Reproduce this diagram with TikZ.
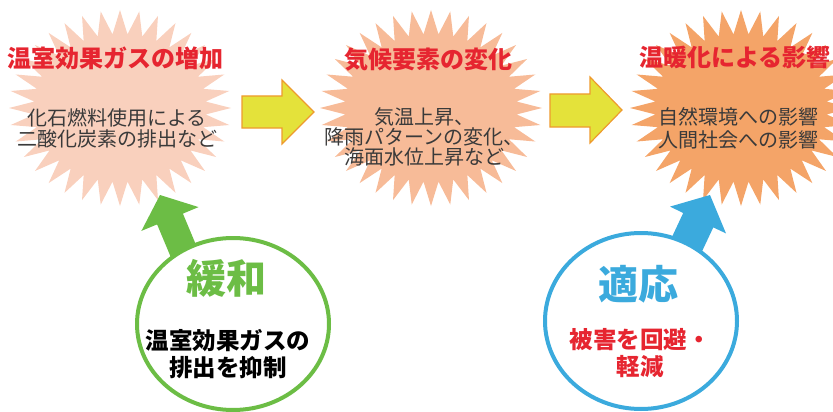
\documentclass[tikz,border=0pt]{standalone}
\usepackage{fontspec}
\setmainfont{Noto Sans CJK JP}
\definecolor{burstA}{HTML}{F9D0BD}
\definecolor{burstB}{HTML}{F7BB98}
\definecolor{burstC}{HTML}{F4A468}
\definecolor{titlered}{HTML}{E62530}
\definecolor{bodygray}{HTML}{3A3A3A}
\definecolor{arrowyellow}{HTML}{E4E23A}
\definecolor{arroworange}{HTML}{EE9A2E}
\definecolor{mitgreen}{HTML}{6CBD45}
\definecolor{adablue}{HTML}{3BAADD}
\tikzset{
  bursttitle/.style={inner sep=0pt, text=titlered, font=\bfseries\fontsize{24}{28}\selectfont},
  burstbody/.style={inner sep=0pt, text=bodygray, align=center},
  blockarrow/.style={fill=arrowyellow, draw=arroworange, line width=1.2pt, line join=miter},
  ringline/.style={line width=4pt, fill=white},
  ringtitle/.style={inner sep=0pt, font=\bfseries\fontsize{40}{44}\selectfont},
  ringbody/.style={inner sep=0pt, align=center, font=\bfseries\fontsize{23.5}{27.5}\selectfont},
}
\newcommand{\myburst}[3]{%
  \fill[#3, shift={(#1,#2)}] (0:111pt and 98pt)
    \foreach \k in {1,...,36} { -- ({(\k-0.5)*10}:86pt and 74pt) -- ({\k*10}:111pt and 98pt) } -- cycle;%
}
\begin{document}
\begin{tikzpicture}[x=1pt,y=-1pt]
\useasboundingbox (0,0) rectangle (833,412);
\clip (0,0) rectangle (833,412);

% starbursts
\myburst{120}{108}{burstA}
\myburst{431}{108}{burstB}
\myburst{741}{108}{burstC}

% burst texts
\node[bursttitle] (t1) at (116,58) {温室効果ガスの増加};
\node[burstbody, font=\fontsize{20}{21}\selectfont] (b1) at (117,128) {化石燃料使用による\\二酸化炭素の排出など};
\node[bursttitle] (t2) at (428,60) {気候要素の変化};
\node[burstbody, font=\fontsize{20}{20}\selectfont] (b2) at (424,137) {気温上昇、\\降雨パターンの変化、\\海面水位上昇など};
\node[bursttitle] (t3) at (735,57) {温暖化による影響};
\node[burstbody, font=\fontsize{20}{23}\selectfont] (b3) at (738,128) {自然環境への影響\\人間社会への影響};

% yellow block arrows
\draw[blockarrow] (242,96) -- (282,96) -- (282,80) -- (314,112) -- (282,144) -- (282,128) -- (242,128) -- cycle;
\draw[blockarrow] (550,94) -- (590,94) -- (590,77) -- (622,110) -- (590,143) -- (590,127) -- (550,127) -- cycle;

% green arrow (mitigation)
\fill[mitgreen] (160,195) -- (198.6,207.1) -- (182.9,213.6) -- (199.9,254.2) -- (174.1,265) -- (157.1,224.4) -- (141.4,230.9) -- cycle;
% blue arrow (adaptation)
\fill[adablue] (710,195) -- (726,233.4) -- (713.3,227.4) -- (697,262) -- (667,247.6) -- (683.2,213) -- (670,206.6) -- cycle;

% rings
\draw[ringline, draw=mitgreen] (233,324) ellipse [x radius=96, y radius=86];
\draw[ringline, draw=adablue] (641,321) ellipse [x radius=96, y radius=88];

\node[ringtitle, text=mitgreen] (m1) at (226,278) {緩和};
\node[ringbody, text=black] (m2) at (228,354) {温室効果ガスの\\排出を抑制};
\node[ringtitle, text=adablue] (a1) at (638,284) {適応};
\node[ringbody, text=titlered] (a2) at (640,353) {被害を回避・\\軽減};
\end{tikzpicture}
\end{document}
